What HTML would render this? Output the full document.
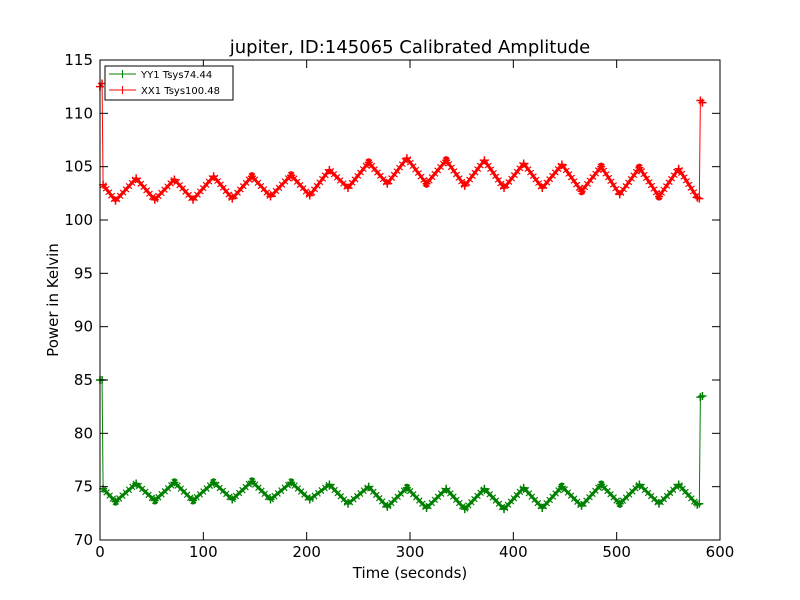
<!DOCTYPE html>
<html><head><meta charset="utf-8"><style>
body{margin:0;background:#fff;}
svg{display:block;font-family:"DejaVu Sans","Liberation Sans",sans-serif;}
</style></head><body>
<svg id="chart" width="800" height="600" viewBox="0 0 800 600">
<rect width="800" height="600" fill="#fff"/>
<text x="410" y="53" font-size="18" text-anchor="middle">jupiter, ID:145065 Calibrated Amplitude</text>
<g id="series"></g>
<rect x="100" y="60" width="620" height="480" fill="none" stroke="#000" stroke-width="1"/>
<g id="axes"></g>
<text x="410" y="578" font-size="15" text-anchor="middle">Time (seconds)</text>
<text x="58" y="300" font-size="15" text-anchor="middle" transform="rotate(-90 58 300)">Power in Kelvin</text>
<g>
<rect x="105" y="66" width="128" height="34" fill="#fff" stroke="#000"/>
<g>
<line x1="109" y1="74" x2="136" y2="74" stroke="#008000"/><path d="M122.5 70v8M118.5 74h8" stroke="#008000"/>
<text x="141" y="78" font-size="10">YY1 Tsys74.44</text></g>
<g>
<line x1="109" y1="90" x2="136" y2="90" stroke="#ff0000"/><path d="M122.5 86v8M118.5 90h8" stroke="#ff0000"/>
<text x="141" y="94" font-size="10">XX1 Tsys100.48</text></g>
</g>
</svg>
<script>
const xTicks=[0,100,200,300,400,500,600];
const yTicks=[70,75,80,85,90,95,100,105,110,115];
const times=[0,2,3,15,35,53,72,90,110,128,147,165,185,203,222,240,260,278,297,316,335,353,372,391,410,428,447,466,485,503,522,541,560,578,580,581,583];
const xx1Values=[112.5,112.8,103.3,101.8,103.9,101.9,103.8,101.9,104.1,102.0,104.1,102.2,104.2,102.3,104.7,103.0,105.4,103.4,105.8,103.4,105.6,103.2,105.6,103.0,105.3,103.0,105.2,102.7,105.0,102.4,104.9,102.2,104.8,102.1,102.0,111.2,111.0];
const yy1Values=[85.0,85.0,74.8,73.6,75.3,73.7,75.4,73.7,75.4,73.8,75.5,73.8,75.4,73.8,75.2,73.4,75.0,73.1,74.9,73.0,74.8,72.9,74.8,72.9,74.9,73.0,75.0,73.2,75.2,73.4,75.2,73.4,75.2,73.3,73.4,83.4,83.5];
const NS="http://www.w3.org/2000/svg";
const X=v=>100+v*620/600, Y=v=>540-(v-70)*480/45;
const ax=document.getElementById('axes'), se=document.getElementById('series');
function mk(t,a,p){const e=document.createElementNS(NS,t);for(const k in a)e.setAttribute(k,a[k]);p.appendChild(e);return e;}
xTicks.forEach(t=>{
 const g=mk('g',{},ax);
 
 
 mk('line',{x1:X(t),x2:X(t),y1:540,y2:532,stroke:'#000'},g);
 mk('line',{x1:X(t),x2:X(t),y1:60,y2:68,stroke:'#000'},g);
 const tx=mk('text',{x:X(t),y:557,'font-size':15,'text-anchor':'middle'},g);tx.textContent=t;
});
yTicks.forEach(t=>{
 const g=mk('g',{},ax);
 
 
 mk('line',{x1:100,x2:108,y1:Y(t),y2:Y(t),stroke:'#000'},g);
 mk('line',{x1:720,x2:712,y1:Y(t),y2:Y(t),stroke:'#000'},g);
 const tx=mk('text',{x:93,y:Y(t)+5,'font-size':15,'text-anchor':'end'},g);tx.textContent=t;
});
function series(vals,color,name){
 const g=mk('g',{},se);
 
 
 const pts=times.map((t,i)=>X(t)+','+Y(vals[i])).join(' ');
 const body=times.slice(2,-3).map((t,i)=>X(t)+','+Y(vals[i+2])).join(' ');
 mk('polyline',{points:pts,fill:'none',stroke:color,'stroke-width':1},g);
 mk('polyline',{points:body,fill:'none',stroke:color,'stroke-width':3,'stroke-linejoin':'round'},g);
 mk('polyline',{points:body,fill:'none',stroke:color,'stroke-width':8,'stroke-dasharray':'1.2 3.2','stroke-linejoin':'round'},g);
 times.forEach((t,i)=>{
  const m=mk('path',{d:`M${X(t)-4} ${Y(vals[i])}h8M${X(t)} ${Y(vals[i])-4}v8`,stroke:color,'stroke-width':1.5},g);
  
  
 });
}
series(xx1Values,'#ff0000','series-xx1');
series(yy1Values,'#008000','series-yy1');
</script>
</body></html>
